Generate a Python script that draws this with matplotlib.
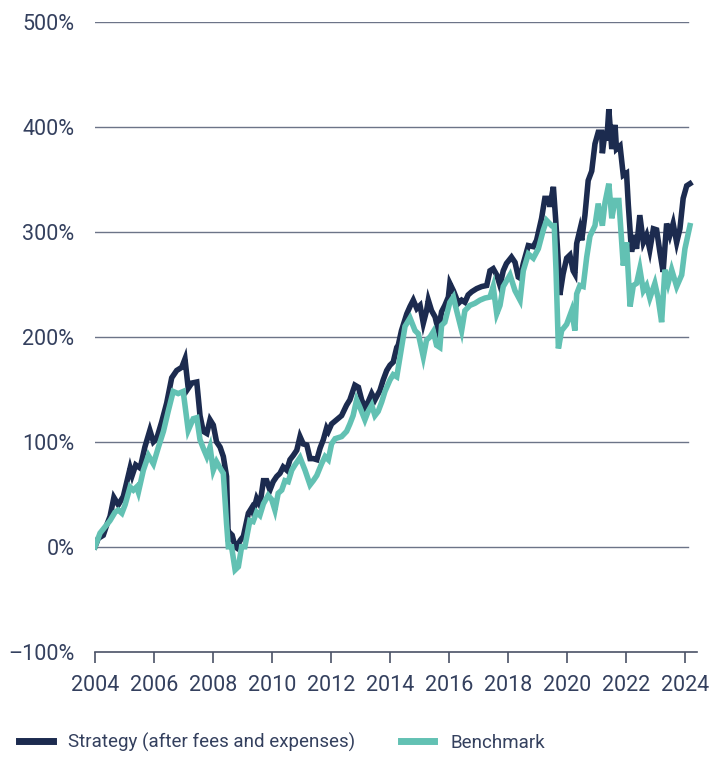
import matplotlib
matplotlib.use("Agg")
import matplotlib.pyplot as plt
from matplotlib.ticker import FuncFormatter

plt.rcParams['font.family'] = ['Roboto', 'DejaVu Sans']

# dates as decimal years, cumulative return in %
strategy_t = [2004.00, 2004.11, 2004.28, 2004.40, 2004.51, 2004.64, 2004.79, 2004.96,
              2005.19, 2005.26, 2005.38, 2005.53, 2005.69, 2005.86, 2005.98, 2006.09,
              2006.26, 2006.43, 2006.60, 2006.77, 2006.94, 2007.05, 2007.16, 2007.28,
              2007.45, 2007.56, 2007.67, 2007.79, 2007.90, 2008.01, 2008.12, 2008.24,
              2008.35, 2008.46, 2008.52, 2008.58, 2008.65, 2008.75, 2008.80, 2008.92,
              2009.03, 2009.20, 2009.31, 2009.36, 2009.48, 2009.59, 2009.71, 2009.82,
              2009.93, 2010.04, 2010.16, 2010.27, 2010.38, 2010.50, 2010.61, 2010.72,
              2010.84, 2010.95, 2011.06, 2011.18, 2011.29, 2011.40, 2011.52, 2011.63,
              2011.74, 2011.85, 2011.91, 2012.02, 2012.19, 2012.36, 2012.53, 2012.64,
              2012.81, 2012.93, 2013.04, 2013.15, 2013.26, 2013.38, 2013.49, 2013.66,
              2013.77, 2013.89, 2014.00, 2014.11, 2014.23, 2014.28, 2014.39, 2014.57,
              2014.68, 2014.79, 2014.91, 2015.02, 2015.13, 2015.24, 2015.30, 2015.41,
              2015.53, 2015.64, 2015.75, 2015.86, 2015.98, 2016.03, 2016.15, 2016.32,
              2016.43, 2016.54, 2016.65, 2016.77, 2016.94, 2017.11, 2017.28, 2017.39,
              2017.50, 2017.62, 2017.73, 2017.84, 2017.95, 2018.12, 2018.24, 2018.35,
              2018.41, 2018.52, 2018.69, 2018.86, 2018.97, 2019.14, 2019.25, 2019.37,
              2019.42, 2019.54, 2019.62, 2019.71, 2019.76, 2019.87, 2019.99, 2020.10,
              2020.21, 2020.27, 2020.33, 2020.44, 2020.50, 2020.61, 2020.72, 2020.84,
              2020.95, 2021.06, 2021.18, 2021.20, 2021.29, 2021.35, 2021.42, 2021.52,
              2021.63, 2021.68, 2021.80, 2021.91, 2022.02, 2022.08, 2022.19, 2022.25,
              2022.36, 2022.47, 2022.59, 2022.70, 2022.81, 2022.93, 2023.04, 2023.15,
              2023.26, 2023.38, 2023.49, 2023.60, 2023.72, 2023.83, 2023.94, 2024.06,
              2024.17]
strategy = [0, 8, 11, 21, 29, 47, 40, 48,
            75, 68, 78, 75, 95, 111, 100, 103,
            119, 137, 161, 168, 171, 179, 151, 156,
            157, 125, 110, 108, 121, 116, 100, 95,
            86, 67, 5, 13, 11, 0, -1, 6,
            10, 32, 37, 33, 46, 40, 63, 63,
            54, 62, 67, 70, 76, 73, 83, 87,
            92, 105, 98, 97, 84, 84, 83, 94,
            102, 113, 110, 117, 121, 125, 135, 140,
            154, 152, 140, 133, 138, 146, 140, 149,
            159, 168, 173, 176, 190, 192, 206, 222,
            229, 235, 227, 230, 213, 225, 235, 225,
            219, 206, 224, 230, 238, 251, 244, 232,
            235, 233, 240, 243, 246, 248, 249, 263,
            265, 259, 249, 263, 270, 276, 271, 257,
            256, 270, 287, 286, 292, 313, 332, 332,
            324, 343, 311, 270, 240, 260, 275, 278,
            263, 260, 289, 302, 292, 316, 349, 358,
            384, 395, 395, 375, 395, 387, 417, 379,
            402, 379, 382, 354, 356, 326, 281, 297,
            284, 316, 290, 297, 283, 303, 302, 281,
            262, 308, 297, 308, 290, 303, 332, 344,
            346]

benchmark_t = [2004.00, 2004.17, 2004.34, 2004.51, 2004.68, 2004.79, 2004.91, 2005.02,
               2005.19, 2005.30, 2005.41, 2005.47, 2005.64, 2005.81, 2005.98, 2006.15,
               2006.32, 2006.48, 2006.65, 2006.82, 2006.99, 2007.16, 2007.33, 2007.45,
               2007.56, 2007.67, 2007.79, 2007.90, 2008.01, 2008.12, 2008.24, 2008.35,
               2008.46, 2008.52, 2008.63, 2008.75, 2008.86, 2008.97, 2009.08, 2009.25,
               2009.36, 2009.48, 2009.59, 2009.71, 2009.87, 2009.99, 2010.10, 2010.21,
               2010.33, 2010.44, 2010.55, 2010.67, 2010.78, 2010.95, 2011.12, 2011.29,
               2011.40, 2011.52, 2011.68, 2011.80, 2011.91, 2012.02, 2012.14, 2012.36,
               2012.53, 2012.64, 2012.75, 2012.87, 2012.98, 2013.15, 2013.26, 2013.38,
               2013.49, 2013.60, 2013.72, 2013.83, 2014.00, 2014.11, 2014.23, 2014.34,
               2014.51, 2014.68, 2014.85, 2014.96, 2015.13, 2015.24, 2015.36, 2015.47,
               2015.58, 2015.69, 2015.75, 2015.86, 2016.03, 2016.15, 2016.26, 2016.43,
               2016.54, 2016.71, 2016.88, 2017.05, 2017.22, 2017.39, 2017.50, 2017.62,
               2017.73, 2017.84, 2018.07, 2018.24, 2018.41, 2018.52, 2018.69, 2018.86,
               2019.03, 2019.20, 2019.31, 2019.48, 2019.57, 2019.63, 2019.71, 2019.82,
               2019.99, 2020.16, 2020.27, 2020.33, 2020.44, 2020.55, 2020.67, 2020.78,
               2020.95, 2021.06, 2021.20, 2021.29, 2021.42, 2021.52, 2021.63, 2021.76,
               2021.91, 2022.02, 2022.14, 2022.25, 2022.36, 2022.47, 2022.59, 2022.70,
               2022.81, 2022.98, 2023.09, 2023.21, 2023.32, 2023.43, 2023.55, 2023.72,
               2023.89, 2024.00, 2024.17]
benchmark = [0, 13, 19, 25, 33, 35, 32, 40,
             57, 54, 57, 52, 73, 87, 79, 95,
             110, 129, 148, 146, 148, 111, 122, 123,
             102, 94, 86, 95, 73, 81, 75, 70,
             22, 0, 0, -22, -19, 0, 0, 25,
             24, 33, 30, 41, 49, 45, 35, 51,
             54, 63, 62, 73, 78, 85, 73, 59,
             63, 68, 79, 86, 83, 98, 103, 105,
             110, 117, 125, 140, 133, 121, 129, 135,
             125, 129, 138, 148, 159, 164, 162, 181,
             210, 218, 206, 203, 181, 197, 200, 205,
             192, 190, 211, 214, 233, 238, 225, 206,
             225, 230, 232, 235, 237, 238, 248, 222,
             230, 248, 259, 244, 235, 263, 279, 275,
             284, 302, 311, 306, 306, 263, 189, 206,
             212, 225, 206, 241, 249, 248, 276, 296,
             306, 327, 306, 328, 346, 313, 330, 330,
             268, 290, 229, 249, 251, 265, 244, 249,
             237, 251, 237, 214, 264, 251, 264, 248,
             259, 284, 306]

year_ticks = [2004, 2006, 2008, 2010, 2012, 2014, 2016, 2018, 2020, 2022, 2024]
y_ticks = [-100, 0, 100, 200, 300, 400, 500]

navy = '#1c2b4f'
teal = '#62c1b3'
text_col = '#34405e'
grid_col = '#6c7488'

fig = plt.figure(figsize=(7.16, 7.58), dpi=100)
ax = fig.add_axes([0.1327, 0.1402, 0.8408, 0.8307])

for y in y_ticks[1:]:
    ax.axhline(y, xmin=0, xmax=0.985, color=grid_col, lw=1.0, zorder=1)

ax.plot(benchmark_t, benchmark, color=teal, lw=4.0, zorder=3,
        label='Benchmark', solid_joinstyle='miter')
ax.plot(strategy_t, strategy, color=navy, lw=4.0, zorder=2,
        label='Strategy (after fees and expenses)', solid_joinstyle='miter')

ax.set_xlim(2004, 2024.41)
ax.set_ylim(-100, 500)
ax.set_xticks(year_ticks)
ax.set_yticks(y_ticks)
ax.yaxis.set_major_formatter(FuncFormatter(lambda v, p: f'{int(v)}%'.replace('-', '\u2013')))

for s in ['top', 'right', 'left']:
    ax.spines[s].set_visible(False)
ax.spines['bottom'].set_color('#4a5266')
ax.spines['bottom'].set_linewidth(1.2)
ax.tick_params(axis='x', direction='out', length=8, width=1.2, color='#4a5266',
               pad=9, labelsize=15.5, labelcolor=text_col)
ax.tick_params(axis='y', length=0, pad=15, labelsize=15.5, labelcolor=text_col)

handles, labels = ax.get_legend_handles_labels()
leg = fig.legend(handles[::-1], labels[::-1], loc='lower left', bbox_to_anchor=(15 / 716, 0.003),
                 ncol=2, frameon=False, fontsize=13.5, handlelength=1.8,
                 columnspacing=2.4, handletextpad=0.85, borderaxespad=0, borderpad=0.2)
for t in leg.get_texts():
    t.set_color(text_col)
for l in leg.get_lines():
    l.set_linewidth(5)

fig.savefig('out.png', dpi=100)
